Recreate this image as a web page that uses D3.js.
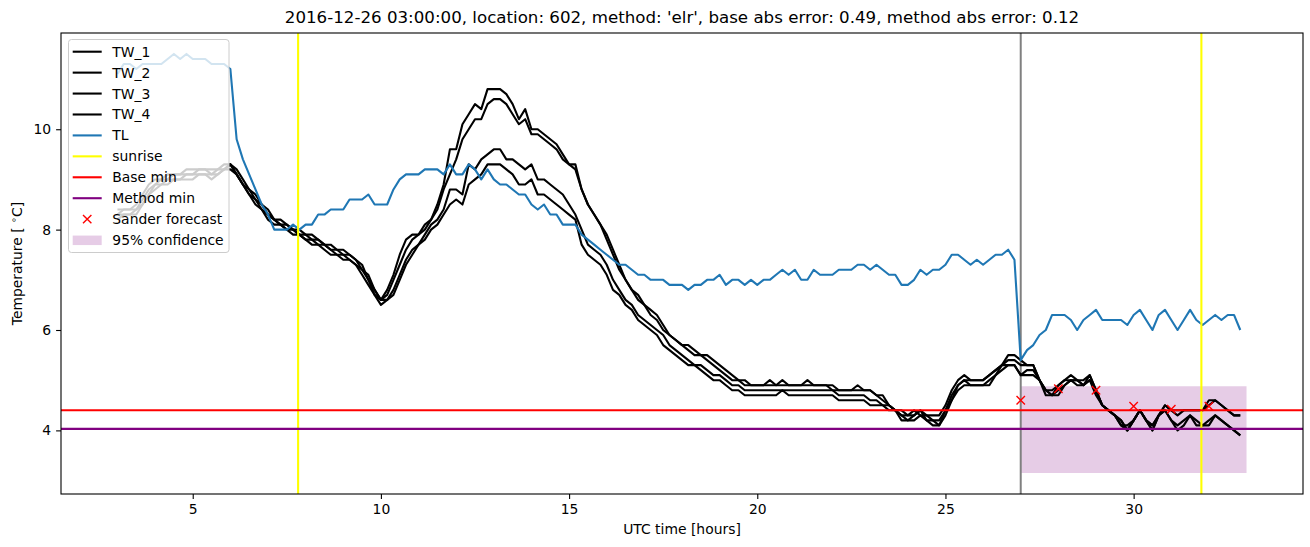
<!DOCTYPE html>
<html><head><meta charset="utf-8">
<script src="https://cdn.jsdelivr.net/npm/d3@7"></script>
<style>
body{margin:0;background:#fff}
svg{display:block}
text{font-family:"DejaVu Sans",sans-serif;fill:#000}
</style>
</head><body>
<svg id="chart" width="1310" height="547"></svg>
<script>
// ---------- data ----------
const titleText = "2016-12-26 03:00:00, location: 602, method: 'elr', base abs error: 0.49, method abs error: 0.12";
// 10-minute samples from 03:00 to 32:50 (hours)
const hours = d3.range(180).map(i => 3 + i / 6);

const TL = [
 11.1,11.3,11.3,11.2,11.3,11.3, 11.3,11.3,11.4,11.5,11.4,11.5, 11.4,11.4,11.4,11.3,11.3,11.3,
 11.2,9.8,9.4,9.1,8.8,8.5, 8.3,8.0,8.0,8.0,8.1,8.0, 8.1,8.1,8.3,8.3,8.4,8.4,
 8.4,8.6,8.6,8.6,8.7,8.5, 8.5,8.5,8.8,9.0,9.1,9.1, 9.1,9.2,9.2,9.2,9.1,9.3,
 9.1,9.1,9.3,9.2,9.0,9.2, 9.0,8.9,8.9,8.8,8.7,8.7, 8.5,8.4,8.5,8.3,8.3,8.1,
 8.1,8.1,7.9,7.8,7.7,7.6, 7.5,7.4,7.3,7.3,7.2,7.1, 7.1,7.0,7.0,7.0,6.9,6.9,
 6.9,6.8,6.9,6.9,7.0,7.0, 7.1,6.9,7.0,7.0,6.9,7.0, 6.9,7.0,7.0,7.1,7.2,7.1,
 7.2,7.0,7.0,7.2,7.1,7.1, 7.1,7.2,7.2,7.2,7.3,7.3, 7.2,7.3,7.2,7.1,7.1,6.9,
 6.9,7.0,7.2,7.1,7.2,7.2, 7.3,7.5,7.5,7.4,7.3,7.4, 7.3,7.4,7.5,7.5,7.6,7.4,
 5.4,5.6,5.7,5.9,6.0,6.3, 6.3,6.3,6.2,6.0,6.2,6.3, 6.4,6.2,6.2,6.2,6.2,6.1,
 6.3,6.4,6.2,6.0,6.3,6.4, 6.2,6.0,6.2,6.4,6.2,6.1, 6.2,6.3,6.2,6.3,6.3,6.0
];
const TW_1 = [
 8.4,8.4,8.4,8.5,8.7,8.9, 9.0,9.0,9.1,9.1,9.1,9.2, 9.2,9.2,9.2,9.2,9.2,9.3,
 9.3,9.1,8.9,8.8,8.6,8.5, 8.3,8.2,8.1,8.1,8.0,8.0, 7.9,7.9,7.8,7.7,7.7,7.6,
 7.6,7.5,7.4,7.2,7.1,6.8, 6.6,6.8,7.1,7.5,7.8,7.9, 7.9,8.1,8.2,8.5,8.9,9.6,
 9.6,10.1,10.3,10.5,10.4,10.8, 10.8,10.8,10.7,10.5,10.2,10.4, 10.0,10.0,9.9,9.8,9.7,9.5,
 9.3,9.3,8.8,8.5,8.3,8.1, 7.9,7.6,7.3,7.0,6.8,6.7, 6.5,6.4,6.3,6.1,5.9,5.8,
 5.7,5.7,5.6,5.5,5.5,5.4, 5.3,5.2,5.1,5.0,5.0,4.9, 4.9,4.9,5.0,4.9,4.9,4.9,
 4.9,4.9,5.0,4.9,4.9,4.9, 4.9,4.8,4.8,4.8,4.8,4.8, 4.8,4.7,4.7,4.5,4.4,4.4,
 4.3,4.3,4.4,4.3,4.3,4.3, 4.5,4.8,5.0,5.1,5.0,5.0, 5.0,5.1,5.2,5.3,5.5,5.5,
 5.4,5.3,5.3,5.0,4.8,4.7, 4.9,5.0,5.1,5.0,4.9,5.1, 4.8,4.5,4.4,4.3,4.2,4.0,
 4.2,4.4,4.2,4.0,4.3,4.5, 4.4,4.4,4.4,4.4,4.4,4.4, 4.6,4.6,4.5,4.4,4.3,4.3
];
const TW_2 = [
 8.3,8.4,8.4,8.4,8.6,8.8, 8.9,9.0,9.0,9.1,9.1,9.1, 9.1,9.2,9.2,9.1,9.2,9.2,
 9.3,9.2,9.0,8.8,8.7,8.5, 8.4,8.2,8.2,8.1,8.0,7.9, 7.9,7.8,7.8,7.7,7.6,7.6,
 7.5,7.5,7.4,7.3,7.0,6.8, 6.6,6.7,7.0,7.3,7.6,7.8, 7.9,8.0,8.2,8.4,8.8,9.1,
 9.4,9.8,10.0,10.2,10.2,10.5, 10.6,10.6,10.5,10.3,10.1,10.2, 9.9,9.9,9.8,9.7,9.6,9.4,
 9.3,9.2,8.8,8.5,8.3,8.1, 7.8,7.5,7.2,7.0,6.8,6.6, 6.5,6.3,6.2,6.0,5.9,5.8,
 5.7,5.6,5.5,5.5,5.4,5.3, 5.2,5.1,5.0,5.0,4.9,4.9, 4.9,4.9,4.9,4.9,5.0,4.9,
 4.9,4.9,4.9,4.9,4.9,4.9, 4.8,4.8,4.8,4.8,4.9,4.8, 4.8,4.7,4.6,4.5,4.4,4.3,
 4.3,4.4,4.3,4.3,4.2,4.2, 4.4,4.7,4.9,5.0,5.0,5.0, 5.0,5.1,5.2,5.3,5.4,5.4,
 5.3,5.3,5.3,5.0,4.8,4.8, 4.9,5.0,5.0,5.0,5.0,5.1, 4.8,4.5,4.4,4.3,4.1,4.1,
 4.2,4.4,4.2,4.1,4.3,4.5, 4.4,4.3,4.4,4.4,4.4,4.4, 4.5,4.6,4.5,4.4,4.3,4.3
];
const TW_3 = [
 8.3,8.3,8.3,8.4,8.5,8.7, 8.9,8.9,9.0,9.0,9.0,9.1, 9.1,9.1,9.1,9.1,9.1,9.2,
 9.2,9.1,8.9,8.7,8.6,8.4, 8.3,8.2,8.1,8.0,8.0,7.9, 7.8,7.8,7.7,7.7,7.6,7.5,
 7.5,7.4,7.3,7.2,7.0,6.7, 6.5,6.6,6.8,7.1,7.4,7.6, 7.7,7.9,8.1,8.2,8.4,8.8,
 8.8,8.7,9.3,9.2,9.4,9.5, 9.6,9.6,9.4,9.4,9.3,9.2, 9.3,9.0,9.0,8.9,8.8,8.7,
 8.5,8.3,8.0,7.7,7.6,7.5, 7.3,7.0,6.8,6.6,6.5,6.3, 6.2,6.1,6.0,5.9,5.7,5.6,
 5.5,5.4,5.3,5.3,5.2,5.1, 5.1,5.0,4.9,4.9,4.8,4.8, 4.8,4.8,4.8,4.8,4.8,4.8,
 4.8,4.8,4.8,4.8,4.8,4.8, 4.8,4.7,4.7,4.7,4.7,4.7, 4.6,4.6,4.5,4.5,4.4,4.3,
 4.2,4.3,4.4,4.2,4.2,4.1, 4.4,4.6,4.9,5.0,4.9,4.9, 4.9,5.0,5.1,5.3,5.3,5.3,
 5.1,5.2,5.2,5.0,4.8,4.7, 4.8,4.9,5.0,5.0,4.9,5.0, 4.8,4.5,4.4,4.3,4.2,4.0,
 4.2,4.4,4.2,4.1,4.3,4.4, 4.2,4.1,4.2,4.3,4.2,4.1, 4.2,4.3,4.2,4.1,4.0,3.9
];
const TW_4 = [
 8.2,8.3,8.3,8.3,8.5,8.7, 8.8,8.9,8.9,9.0,9.0,9.0, 9.0,9.1,9.1,9.0,9.1,9.2,
 9.3,9.1,8.9,8.7,8.5,8.4, 8.2,8.1,8.1,8.0,7.9,7.9, 7.8,7.7,7.7,7.6,7.5,7.5,
 7.4,7.4,7.3,7.1,6.9,6.7, 6.6,6.6,6.7,7.0,7.3,7.5, 7.7,7.8,8.0,8.1,8.3,8.5,
 8.6,8.5,8.9,9.0,9.1,9.3, 9.3,9.3,9.2,9.1,8.9,8.9, 9.0,8.7,8.7,8.6,8.5,8.4,
 8.3,8.2,7.7,7.5,7.4,7.3, 7.1,6.8,6.7,6.5,6.4,6.2, 6.1,6.0,5.9,5.7,5.6,5.5,
 5.4,5.3,5.3,5.2,5.1,5.0, 5.0,4.9,4.8,4.8,4.7,4.7, 4.7,4.7,4.7,4.7,4.8,4.7,
 4.7,4.7,4.7,4.7,4.7,4.7, 4.7,4.6,4.6,4.6,4.6,4.6, 4.5,4.5,4.5,4.4,4.4,4.2,
 4.2,4.2,4.3,4.2,4.1,4.1, 4.3,4.6,4.8,4.9,4.9,4.9, 4.9,4.9,5.1,5.2,5.3,5.3,
 5.1,5.1,5.1,5.0,4.7,4.7, 4.7,4.9,5.0,4.9,4.9,5.0, 4.7,4.5,4.4,4.3,4.1,4.0,
 4.2,4.4,4.2,4.0,4.3,4.4, 4.2,4.0,4.1,4.3,4.1,4.1, 4.1,4.3,4.2,4.1,4.0,3.9
];
const sunriseHours = [7.8, 31.8];
const forecastHour = 27;
const baseMin = 4.4;
const methodMin = 4.03;
const sanderHours = [27, 28, 29, 30, 31, 32];
const sanderValues = [4.6, 4.83, 4.8, 4.48, 4.42, 4.48];
const confHours = [27, 33];
const confLower = [3.15, 3.15];
const confUpper = [4.88, 4.88];
const xTicks = [5, 10, 15, 20, 25, 30];
const yTicks = [4, 6, 8, 10];
const legendLabels = ["TW_1","TW_2","TW_3","TW_4","TL","sunrise","Base min","Method min","Sander forecast","95% confidence"];

// ---------- layout ----------
const svg = d3.select("#chart");
const L = 61, R = 1303, T = 33, B = 494;
const x = d3.scaleLinear().domain([1.5, 34.5]).range([L, R]);
const y = d3.scaleLinear().domain([2.7325, 11.9175]).range([B, T]);

svg.append("defs").append("clipPath").attr("id","clip")
  .append("rect").attr("x",L).attr("y",T).attr("width",R-L).attr("height",B-T);
const plot = svg.append("g").attr("clip-path","url(#clip)");

// confidence band
const area = d3.area().x((d,i)=>x(confHours[i])).y0((d,i)=>y(confLower[i])).y1((d,i)=>y(confUpper[i]));
plot.append("path").datum(confHours).attr("d", area).attr("fill","#800080").attr("fill-opacity",0.2);

// forecast start line
plot.append("line").attr("x1",x(forecastHour)).attr("x2",x(forecastHour)).attr("y1",T).attr("y2",B)
  .attr("stroke","#808080").attr("stroke-width",2);

const line = d3.line().x((d,i)=>x(hours[i])).y(d=>y(d));
[TW_1, TW_2, TW_3, TW_4].forEach(s => {
  plot.append("path").datum(s).attr("d", line).attr("fill","none")
    .attr("stroke","#000").attr("stroke-width",2.1).attr("stroke-linejoin","round");
});
plot.append("path").datum(TL).attr("d", line).attr("fill","none")
  .attr("stroke","#1f77b4").attr("stroke-width",2.1).attr("stroke-linejoin","round");

sunriseHours.forEach(h => {
  plot.append("line").attr("x1",x(h)).attr("x2",x(h)).attr("y1",T).attr("y2",B)
    .attr("stroke","#ffff00").attr("stroke-width",2.1);
});
plot.append("line").attr("x1",L).attr("x2",R).attr("y1",y(baseMin)).attr("y2",y(baseMin))
  .attr("stroke","#ff0000").attr("stroke-width",2.1);
plot.append("line").attr("x1",L).attr("x2",R).attr("y1",y(methodMin)).attr("y2",y(methodMin))
  .attr("stroke","#800080").attr("stroke-width",2.1);

function xMarker(g, cx, cy, s) {
  g.append("path").attr("d",`M${cx-s},${cy-s}L${cx+s},${cy+s}M${cx-s},${cy+s}L${cx+s},${cy-s}`)
    .attr("stroke","#ff0000").attr("stroke-width",1.4).attr("fill","none");
}
sanderHours.forEach((h,i) => xMarker(plot, x(h), y(sanderValues[i]), 4.2));

// axes frame
svg.append("rect").attr("x",L).attr("y",T).attr("width",R-L).attr("height",B-T)
  .attr("fill","none").attr("stroke","#000").attr("stroke-width",1.1);

const xAxis = d3.axisBottom(x).tickValues(xTicks).tickSize(4.9).tickPadding(4.9).tickFormat(d3.format("d"));
const gx = svg.append("g").attr("transform",`translate(0,${B})`).call(xAxis);
gx.select(".domain").remove();
gx.selectAll("line").attr("stroke","#000").attr("stroke-width",1.1);
gx.selectAll("text").attr("font-size","13.9px").attr("font-family","DejaVu Sans");

const yAxis = d3.axisLeft(y).tickValues(yTicks).tickSize(4.9).tickPadding(4.9).tickFormat(d3.format("d"));
const gy = svg.append("g").attr("transform",`translate(${L},0)`).call(yAxis);
gy.select(".domain").remove();
gy.selectAll("line").attr("stroke","#000").attr("stroke-width",1.1);
gy.selectAll("text").attr("font-size","13.9px").attr("font-family","DejaVu Sans");

// labels
svg.append("text").attr("x",(L+R)/2).attr("y",23).attr("text-anchor","middle")
  .attr("font-size","16.67px").text(titleText);
svg.append("text").attr("x",(L+R)/2).attr("y",534).attr("text-anchor","middle")
  .attr("font-size","13.9px").text("UTC time [hours]");
const yl = svg.append("text").attr("transform",`translate(22,${(T+B)/2}) rotate(-90)`)
  .attr("text-anchor","middle").attr("font-size","13.9px");
yl.append("tspan").text("Temperature [ ");
yl.append("tspan").attr("font-size","9.7px").attr("dy","-5").text("\u2218");
yl.append("tspan").attr("dy","5").text("C]");

// legend
const lg = svg.append("g");
lg.append("rect").attr("x",68.5).attr("y",39.5).attr("width",160.5).attr("height",213)
  .attr("rx",3).attr("fill","#fff").attr("fill-opacity",0.8).attr("stroke","#cccccc").attr("stroke-width",1);
const legColors = ["#000","#000","#000","#000","#1f77b4","#ffff00","#ff0000","#800080"];
legendLabels.forEach((lab, k) => {
  const cy = 51.7 + k * 20.93;
  if (k < 8) {
    lg.append("line").attr("x1",72.7).attr("x2",101.7).attr("y1",cy).attr("y2",cy)
      .attr("stroke",legColors[k]).attr("stroke-width",2.1);
  } else if (k === 8) {
    xMarker(lg, 87.2, cy, 4.2);
  } else {
    lg.append("rect").attr("x",72.7).attr("y",cy-4.5).attr("width",29).attr("height",9.5)
      .attr("fill","#800080").attr("fill-opacity",0.2);
  }
  lg.append("text").attr("x",112.3).attr("y",cy+5).attr("font-size","13.9px").text(lab);
});
</script>
</body></html>
